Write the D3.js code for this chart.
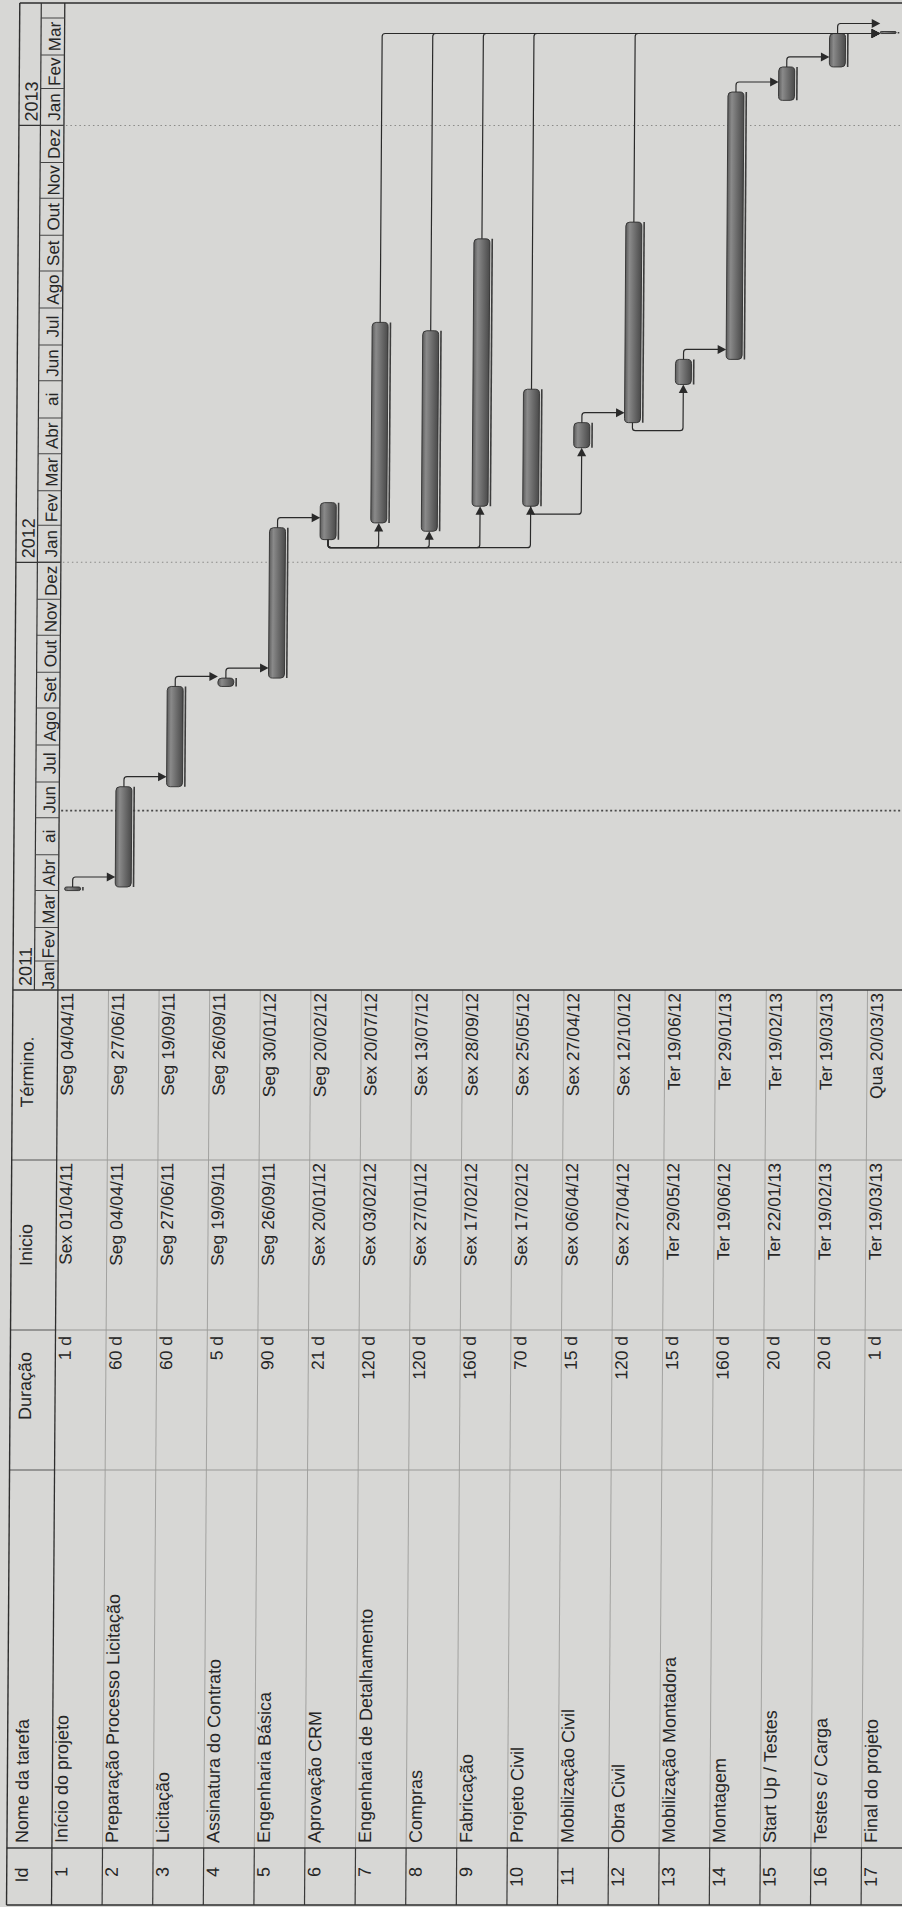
<!DOCTYPE html>
<html>
<head>
<meta charset="utf-8">
<script src="https://cdn.jsdelivr.net/npm/d3@7"></script>
<style>
  html, body { margin: 0; padding: 0; background: #d7d7d5; }
  svg { display: block; }
</style>
</head>
<body>
<div id="chart"></div>
<script>
// Gantt chart (MS Project style), scanned sideways: drawn in landscape and rotated -90deg.

const taskIds = ["1", "2", "3", "4", "5", "6", "7", "8", "9", "10", "11", "12", "13", "14", "15", "16", "17"];
const taskNames = [
    "Início do projeto", "Preparação Processo Licitação", "Licitação", "Assinatura do Contrato",
    "Engenharia Básica", "Aprovação CRM", "Engenharia de Detalhamento", "Compras", "Fabricação",
    "Projeto Civil", "Mobilização Civil", "Obra Civil", "Mobilização Montadora", "Montagem",
    "Start Up / Testes", "Testes c/ Carga", "Final do projeto",
];
const durations = [
    "1 d", "60 d", "60 d", "5 d", "90 d", "21 d", "120 d", "120 d", "160 d",
    "70 d", "15 d", "120 d", "15 d", "160 d", "20 d", "20 d", "1 d",
];
const startLabels = [
    "Sex 01/04/11", "Seg 04/04/11", "Seg 27/06/11", "Seg 19/09/11", "Seg 26/09/11", "Sex 20/01/12",
    "Sex 03/02/12", "Sex 27/01/12", "Sex 17/02/12", "Sex 17/02/12", "Sex 06/04/12", "Sex 27/04/12",
    "Ter 29/05/12", "Ter 19/06/12", "Ter 22/01/13", "Ter 19/02/13", "Ter 19/03/13",
];
const finishLabels = [
    "Seg 04/04/11", "Seg 27/06/11", "Seg 19/09/11", "Seg 26/09/11", "Seg 30/01/12", "Seg 20/02/12",
    "Sex 20/07/12", "Sex 13/07/12", "Sex 28/09/12", "Sex 25/05/12", "Sex 27/04/12", "Sex 12/10/12",
    "Ter 19/06/12", "Ter 29/01/13", "Ter 19/02/13", "Ter 19/03/13", "Qua 20/03/13",
];
// finish-to-start and start-to-start links [predecessor, successor]
const linksFS = [
    ["1", "2"], ["2", "3"], ["3", "4"], ["4", "5"], ["5", "6"], ["11", "12"], ["13", "14"],
    ["14", "15"], ["15", "16"], ["7", "17"], ["8", "17"], ["9", "17"], ["10", "17"], ["12", "17"], ["16", "17"],
];
const linksSS = [["6", "7"], ["6", "8"], ["6", "9"], ["6", "10"], ["10", "11"], ["12", "13"]];

const headers = ["Id", "Nome da tarefa", "Duração", "Inicio", "Término."];
const yearLabels = ["2011", "2012", "2013"];
const monthNames = ["Jan", "Fev", "Mar", "Abr", "ai", "Jun", "Jul", "Ago", "Set", "Out", "Nov", "Dez"];
const statusDate = "07/06/11";

const W = 902, H = 1907;
const FONT = "Liberation Sans, Arial, sans-serif";
const INK = "#262626";
const parse = d3.timeParse("%d/%m/%y");

const tasks = taskIds.map((id, i) => ({
    id, name: taskNames[i], dur: durations[i],
    startLabel: startLabels[i], finishLabel: finishLabels[i],
    start: parse(startLabels[i].slice(4)), finish: parse(finishLabels[i].slice(4)),
}));
const byId = new Map(tasks.map(d => [d.id, d]));

// landscape geometry: u runs along the time axis, v down the rows
const colEdges = [2, 59, 437, 577, 747, 917];
const chartEnd = 1904;
const top0 = 6.5, yearBottom = 28, headBottom = 51.5;
const rowH = 50.6;

const x = d3.scaleTime()
    .domain([new Date(2011, 0, 1), new Date(2013, 3, 1)])
    .range([909, 1889]);
const y = d3.scaleBand()
    .domain(taskIds)
    .range([headBottom, headBottom + taskIds.length * rowH]);
const tableBottom = headBottom + taskIds.length * rowH;

const svg = d3.select("#chart").append("svg")
    .attr("width", W).attr("height", H)
    .attr("viewBox", [0, 0, W, H]);

svg.append("rect").attr("width", W).attr("height", H).attr("fill", "#d7d7d5");

const defs = svg.append("defs");
const grad = defs.append("linearGradient").attr("id", "barGrad")
    .attr("x1", 0).attr("y1", 0).attr("x2", 0).attr("y2", 1);
[["0%", "#5c5c5c"], ["25%", "#8a8a8a"], ["55%", "#707070"], ["100%", "#4a4a4a"]]
    .forEach(([o, c]) => grad.append("stop").attr("offset", o).attr("stop-color", c));

defs.append("clipPath").attr("id", "timeClip")
    .append("rect").attr("x", colEdges[5]).attr("y", 0)
    .attr("width", chartEnd - colEdges[5]).attr("height", 1000);

// slight skew copies the tilt of the scanned page
const g = svg.append("g")
    .attr("transform", `translate(0,${H}) rotate(-90) skewY(0.4)`);

// ---- table grid ----
const grid = g.append("g");
taskIds.forEach(id => {
    const v = y(id) + rowH;
    grid.append("line").attr("x1", colEdges[1]).attr("x2", colEdges[5])
        .attr("y1", v).attr("y2", v).attr("stroke", "#a2a2a0").attr("stroke-width", 1);
    grid.append("line").attr("x1", colEdges[0]).attr("x2", colEdges[1])
        .attr("y1", v).attr("y2", v).attr("stroke", "#3a3a3a").attr("stroke-width", 1.2);
});
colEdges.slice(2, 5).forEach(u => {
    grid.append("line").attr("x1", u).attr("x2", u)
        .attr("y1", headBottom).attr("y2", tableBottom)
        .attr("stroke", "#9a9a98").attr("stroke-width", 1);
    grid.append("line").attr("x1", u).attr("x2", u)
        .attr("y1", top0).attr("y2", headBottom)
        .attr("stroke", "#555").attr("stroke-width", 1);
});
[colEdges[1], colEdges[5]].forEach(u => {
    grid.append("line").attr("x1", u).attr("x2", u)
        .attr("y1", top0).attr("y2", tableBottom)
        .attr("stroke", "#333").attr("stroke-width", 1.3);
});
// outer frame and header bottom
grid.append("line").attr("x1", colEdges[0]).attr("x2", chartEnd)
    .attr("y1", top0).attr("y2", top0).attr("stroke", "#2e2e2e").attr("stroke-width", 1.4);
grid.append("line").attr("x1", colEdges[0]).attr("x2", chartEnd)
    .attr("y1", headBottom).attr("y2", headBottom).attr("stroke", "#2e2e2e").attr("stroke-width", 1.3);
grid.append("line").attr("x1", colEdges[0]).attr("x2", colEdges[0])
    .attr("y1", top0).attr("y2", tableBottom).attr("stroke", "#2e2e2e").attr("stroke-width", 1.4);
grid.append("line").attr("x1", chartEnd).attr("x2", chartEnd)
    .attr("y1", top0).attr("y2", tableBottom).attr("stroke", "#2e2e2e").attr("stroke-width", 1.4);

// ---- table header ----
const headPos = [[32, "middle"], [64, "start"], [521, "middle"], [662, "middle"], [835, "middle"]];
g.append("g").selectAll("text").data(headers).join("text")
    .attr("x", (d, i) => headPos[i][0]).attr("y", 27.5)
    .attr("text-anchor", (d, i) => headPos[i][1])
    .attr("font-family", FONT).attr("font-size", 18).attr("fill", INK)
    .text(d => d);

// ---- table rows ----
const rows = g.append("g").attr("font-family", FONT).attr("fill", INK);
rows.selectAll(".tid").data(tasks).join("text").attr("class", "tid")
    .attr("x", 40).attr("y", d => y(d.id) + 15.5).attr("text-anchor", "end")
    .attr("font-size", 18).text(d => d.id);
rows.selectAll(".tname").data(tasks).join("text").attr("class", "tname")
    .attr("x", 64).attr("y", d => y(d.id) + 15.5)
    .attr("font-size", 18).text(d => d.name);
rows.selectAll(".tdur").data(tasks).join("text").attr("class", "tdur")
    .attr("x", colEdges[3] - 6).attr("y", d => y(d.id) + 15.5).attr("text-anchor", "end")
    .attr("font-size", 17.5).text(d => d.dur);
rows.selectAll(".tstart").data(tasks).join("text").attr("class", "tstart")
    .attr("x", colEdges[4] - 3).attr("y", d => y(d.id) + 15.5).attr("text-anchor", "end")
    .attr("font-size", 17.5).text(d => d.startLabel);
rows.selectAll(".tfinish").data(tasks).join("text").attr("class", "tfinish")
    .attr("x", colEdges[5] - 3).attr("y", d => y(d.id) + 15.5).attr("text-anchor", "end")
    .attr("font-size", 17.5).text(d => d.finishLabel);

// ---- timescale ----
const ts = g.append("g").attr("clip-path", "url(#timeClip)");
ts.append("line").attr("x1", colEdges[5]).attr("x2", chartEnd)
    .attr("y1", yearBottom).attr("y2", yearBottom).attr("stroke", "#333").attr("stroke-width", 1.2);

yearLabels.forEach(label => {
    const d0 = new Date(+label, 0, 1);
    const a = Math.max(x(d0), colEdges[5]);
    if (x(d0) > colEdges[5]) {
        ts.append("line").attr("x1", x(d0)).attr("x2", x(d0))
            .attr("y1", top0).attr("y2", headBottom).attr("stroke", "#333").attr("stroke-width", 1.2);
    }
    ts.append("text").attr("x", a + 4).attr("y", 25)
        .attr("font-family", FONT).attr("font-size", 18).attr("fill", INK).text(label);
});

const months = d3.timeMonth.range(new Date(2011, 0, 1), new Date(2013, 4, 1));
months.forEach(m => {
    const a = Math.max(x(m), colEdges[5]);
    const b = Math.min(x(d3.timeMonth.offset(m, 1)), chartEnd);
    if (x(m) > colEdges[5]) {
        ts.append("line").attr("x1", x(m)).attr("x2", x(m))
            .attr("y1", yearBottom).attr("y2", headBottom).attr("stroke", "#444").attr("stroke-width", 1);
    }
    if (b - a > 25) {
        ts.append("text").attr("x", (a + b) / 2).attr("y", 47.5).attr("text-anchor", "middle")
            .attr("font-family", FONT).attr("font-size", 17).attr("fill", INK)
            .text(monthNames[m.getMonth()]);
    }
});

// ---- gridlines in the chart ----
const chart = g.append("g").attr("clip-path", "url(#timeClip)");
yearLabels.slice(1).forEach(label => {
    const u = x(new Date(+label, 0, 1));
    chart.append("line").attr("x1", u).attr("x2", u)
        .attr("y1", headBottom + 2).attr("y2", tableBottom)
        .attr("stroke", "#8a8a88").attr("stroke-width", 1).attr("stroke-dasharray", "1.5,3");
});
const su = x(parse(statusDate));
chart.append("line").attr("x1", su).attr("x2", su)
    .attr("y1", headBottom + 2).attr("y2", tableBottom)
    .attr("stroke", "#4a4a4a").attr("stroke-width", 1.6).attr("stroke-dasharray", "2,2.5");

// ---- bars ----
const barTop = d => y(d.id) + 6;
const barH = 16;
const barMid = d => y(d.id) + 6 + barH / 2;

chart.append("g").selectAll("rect").data(tasks).join("rect")
    .attr("x", d => x(d.start))
    .attr("y", d => barTop(d) + barH + 1.5)
    .attr("width", d => Math.max(x(d.finish) - x(d.start), 1.5))
    .attr("height", 1.6)
    .attr("fill", "#3c3c3c");

chart.append("g").selectAll("rect").data(tasks).join("rect")
    .attr("x", d => x(d.start))
    .attr("y", barTop)
    .attr("width", d => Math.max(x(d.finish) - x(d.start), 2))
    .attr("height", barH)
    .attr("rx", d => Math.min(4, Math.max(x(d.finish) - x(d.start), 2) / 2))
    .attr("fill", "url(#barGrad)")
    .attr("stroke", "#2f2f2f")
    .attr("stroke-width", 0.9);

// ---- links ----
const links = chart.append("g").attr("fill", "none").attr("stroke", "#2a2a2a").attr("stroke-width", 1.2);
const heads = chart.append("g").attr("fill", "#2a2a2a");
const r = 3;

linksFS.forEach(([p, s]) => {
    const a = byId.get(p), b = byId.get(s);
    const f = x(a.finish), c = barMid(a);
    const turn = Math.max(f + 10, x(b.start));
    const t = barTop(b);
    links.append("path").attr("d",
        `M${f},${c} L${turn - r},${c} Q${turn},${c} ${turn},${c + r} L${turn},${t - 7}`);
    heads.append("path").attr("d",
        `M${turn - 4.5},${t - 8.5} L${turn + 4.5},${t - 8.5} L${turn},${t} Z`);
});

linksSS.forEach(([p, s]) => {
    const a = byId.get(p), b = byId.get(s);
    const ps = x(a.start), ss = x(b.start);
    const left = Math.min(ps, ss) - 8;
    const c1 = barMid(a), c2 = barMid(b);
    links.append("path").attr("d",
        `M${ps},${c1} L${left + r},${c1} Q${left},${c1} ${left},${c1 + r} ` +
        `L${left},${c2 - r} Q${left},${c2} ${left + r},${c2} L${ss - 7},${c2}`);
    heads.append("path").attr("d",
        `M${ss - 8.5},${c2 - 4.5} L${ss - 8.5},${c2 + 4.5} L${ss},${c2} Z`);
});
</script>
</body>
</html>
